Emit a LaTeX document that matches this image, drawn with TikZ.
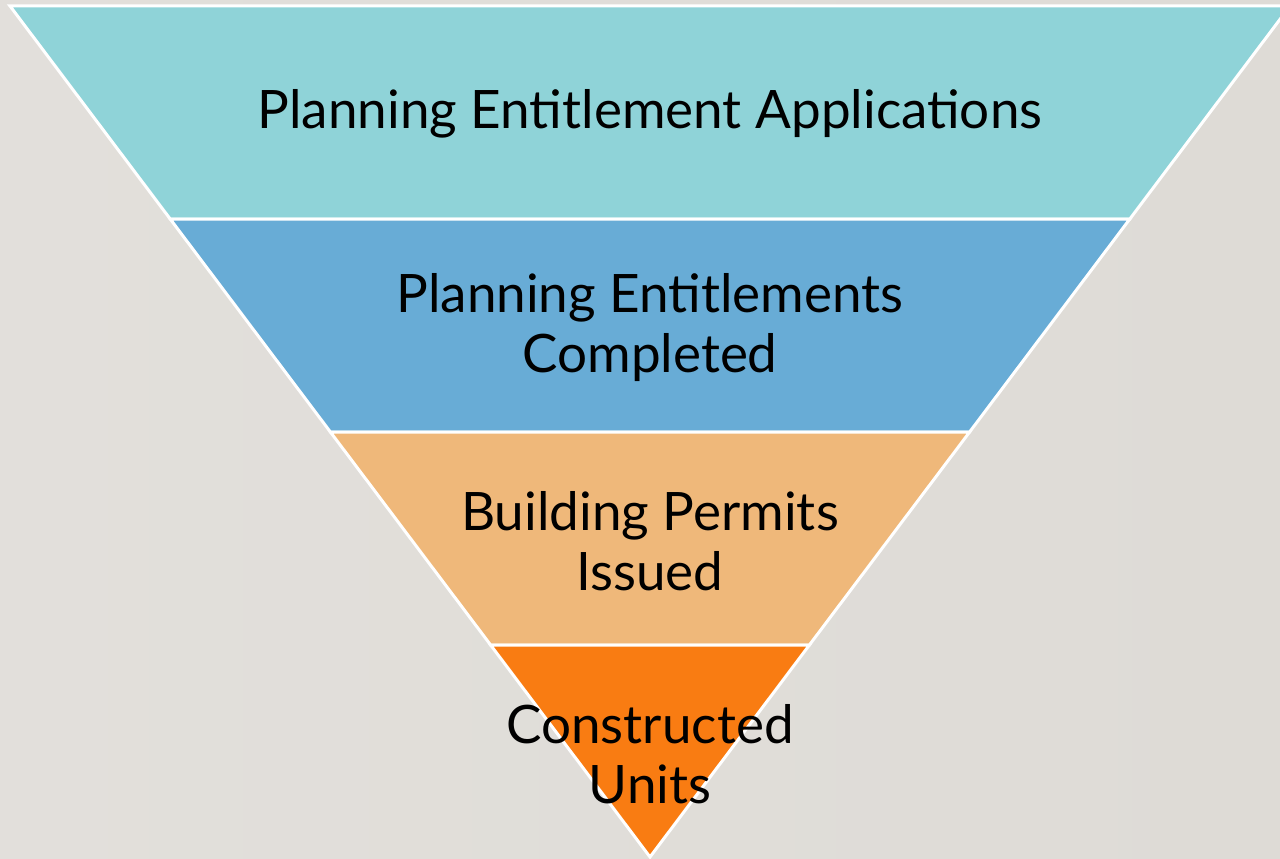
\documentclass[tikz,border=0pt]{standalone}
\usepackage{fontspec}
\setmainfont{Lato}
\definecolor{bgc}{HTML}{DEDBD6}
\definecolor{bandA}{HTML}{8FD3D8}
\definecolor{bandB}{HTML}{68ACD6}
\definecolor{bandC}{HTML}{EFB87A}
\definecolor{bandD}{HTML}{F97C12}
\tikzset{
  band/.style={draw=white, line width=3pt, line join=miter},
  label/.style={align=center, text=black, font=\fontsize{53}{60}\selectfont, inner sep=0pt}
}
\begin{document}
\begin{tikzpicture}[x=1pt,y=-1pt]
\useasboundingbox (0,0) rectangle (1280,859);
\clip (0,0) rectangle (1280,859);
\shade[left color=bgc!88!white, right color=bgc] (0,0) rectangle (1280,859);
\coordinate (t1) at (10,6);
\coordinate (t2) at (1290,6);
\coordinate (a1) at (170.2,219);
\coordinate (a2) at (1129.8,219);
\coordinate (b1) at (330.4,432);
\coordinate (b2) at (969.6,432);
\coordinate (c1) at (490.6,645);
\coordinate (c2) at (809.4,645);
\coordinate (apex) at (650,857);
\filldraw[band, fill=bandA] (t1) -- (t2) -- (a2) -- (a1) -- cycle;
\filldraw[band, fill=bandB] (a1) -- (a2) -- (b2) -- (b1) -- cycle;
\filldraw[band, fill=bandC] (b1) -- (b2) -- (c2) -- (c1) -- cycle;
\filldraw[band, fill=bandD] (c1) -- (c2) -- (apex) -- cycle;
\node[label] (l1) at (650,114) {Planning Entitlement Applications};
\node[label] (l2) at (650,328) {Planning Entitlements\\Completed};
\node[label] (l3) at (650,541) {Building Permits\\Issued};
\node[label] (l4) at (650,754) {Constructed\\Units};
\end{tikzpicture}
\end{document}
